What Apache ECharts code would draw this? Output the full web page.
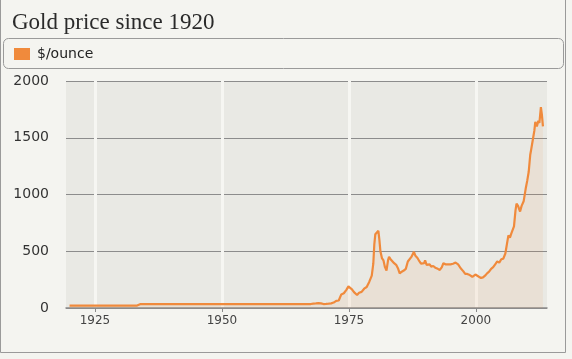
<!DOCTYPE html>
<html>
<head>
<meta charset="utf-8">
<script src="https://cdn.jsdelivr.net/npm/echarts@6/dist/echarts.min.js"></script>
<style>
html,body{margin:0;padding:0;background:#f4f4f0;}
#chart{width:572px;height:359px;}
</style>
</head>
<body>
<div id="chart"></div>
<script>
var title = 'Gold price since 1920';
var seriesName = '$/ounce';
var xTicks = [1925, 1950, 1975, 2000];
var yTicks = [0, 500, 1000, 1500, 2000];
var years = [
  1920.0, 1925.0, 1930.0, 1933.3, 1934.0, 1940.0, 1950.0, 1960.0, 1966.0, 1967.5,
  1968.0, 1968.5, 1969.0, 1969.5, 1970.0, 1970.5, 1971.0, 1971.5, 1972.0, 1972.5,
  1973.0, 1973.5, 1974.0, 1974.5, 1974.9, 1975.2, 1975.6, 1976.0, 1976.6, 1977.0,
  1977.5, 1978.0, 1978.5, 1979.0, 1979.5, 1979.8, 1980.0, 1980.2, 1980.5, 1980.8,
  1981.0, 1981.2, 1981.5, 1981.8, 1982.1, 1982.4, 1982.7, 1982.9, 1983.2, 1983.5,
  1983.9, 1984.3, 1984.7, 1985.0, 1985.4, 1985.8, 1986.2, 1986.6, 1986.9, 1987.3,
  1987.8, 1988.1, 1988.5, 1988.9, 1989.2, 1989.5, 1989.8, 1990.0, 1990.3, 1990.6,
  1990.9, 1991.2, 1991.6, 1992.0, 1992.5, 1992.9, 1993.3, 1993.6, 1994.0, 1994.5,
  1995.0, 1995.5, 1996.0, 1996.5, 1997.0, 1997.5, 1997.9, 1998.3, 1998.8, 1999.3,
  1999.6, 1999.9, 2000.2, 2000.6, 2001.0, 2001.4, 2001.8, 2002.2, 2002.6, 2003.0,
  2003.4, 2003.8, 2004.2, 2004.6, 2005.0, 2005.4, 2005.8, 2006.1, 2006.4, 2006.7,
  2007.0, 2007.5, 2007.8, 2008.0, 2008.3, 2008.7, 2009.0, 2009.4, 2009.8, 2010.1,
  2010.4, 2010.7, 2010.9, 2011.2, 2011.5, 2011.7, 2012.0, 2012.3, 2012.5, 2012.8,
  2013.0, 2013.2
];
var prices = [
  20.67, 20.67, 20.67, 21, 35, 35, 35, 35, 35, 35,
  39, 40, 43, 41, 35, 36, 38, 41, 48, 63,
  66, 120, 130, 160, 190, 178, 165, 140, 115, 135,
  142, 170, 185, 230, 285, 390, 560, 650, 665, 680,
  600, 500, 440, 420, 360, 330, 420, 450, 430, 415,
  395, 380, 345, 305, 320, 330, 345, 410, 420, 450,
  495, 460, 440, 410, 390, 375, 395, 420, 380, 365,
  385, 365, 370, 355, 345, 335, 360, 395, 385, 385,
  385, 390, 400, 385, 350, 325, 300, 300, 290, 275,
  260, 295, 285, 275, 265, 270, 285, 305, 320, 345,
  360, 385, 410, 400, 430, 435, 480, 560, 640, 620,
  660, 720, 860, 920, 900, 850, 900, 940, 1050, 1120,
  1200, 1350, 1400, 1480, 1560, 1640, 1600, 1650, 1630, 1770,
  1700, 1600
];

var data = years.map(function (y, i) { return [y, prices[i]]; });

var chart = echarts.init(document.getElementById('chart'));
chart.setOption({
  backgroundColor: '#f4f4f0',
  animation: false,
  title: {
    text: title,
    left: 12,
    top: 11,
    padding: 0,
    textStyle: { fontFamily: 'Liberation Serif', fontSize: 23, fontWeight: 'normal', color: '#2a2a2a' }
  },
  legend: {
    left: 14,
    top: 47,
    padding: 0,
    itemWidth: 16,
    itemHeight: 12,
    itemGap: 10,
    icon: 'rect',
    textStyle: { fontFamily: 'DejaVu Sans', fontSize: 14, color: '#222', padding: [0, 0, 0, 2] },
    data: [seriesName]
  },
  graphic: [
    {
      type: 'rect',
      silent: true,
      z: -1,
      shape: { x: 3.5, y: 38.5, width: 560, height: 30, r: 5 },
      style: { fill: 'none', stroke: '#9a9a9a', lineWidth: 1 }
    },
    {
      type: 'rect',
      silent: true,
      z: -1,
      shape: { x: 0.5, y: -2, width: 565, height: 354.5 },
      style: { fill: 'none', stroke: '#9a9a9a', lineWidth: 1 }
    }
  ],
  grid: {
    left: 66, right: 25, top: 81, bottom: 51,
    show: true,
    backgroundColor: '#e9e9e4',
    borderWidth: 0
  },
  xAxis: {
    type: 'value',
    min: 1919.3,
    max: 2014,
    axisLine: { show: true, onZero: false, lineStyle: { color: '#8a8a8a', width: 1.5 } },
    axisTick: { show: true, length: 4, customValues: xTicks, lineStyle: { color: '#8a8a8a' } },
    axisLabel: {
      customValues: xTicks,
      margin: 7,
      fontFamily: 'DejaVu Sans',
      fontSize: 12,
      color: '#444',
      formatter: function (v) { return String(v); }
    },
    splitLine: { show: true, lineStyle: { color: '#f6f6f2', width: 3 } }
  },
  yAxis: {
    type: 'value',
    min: 0,
    max: 2000,
    interval: 500,
    axisLine: { show: false },
    axisTick: { show: false },
    axisLabel: {
      margin: 17, fontFamily: 'DejaVu Sans', fontSize: 14, color: '#333',
      formatter: function (v) { return String(v); }
    },
    splitLine: { show: true, lineStyle: { color: '#8c8c8c', width: 1 } }
  },
  series: [{
    name: seriesName,
    type: 'line',
    data: data,
    showSymbol: false,
    symbol: 'none',
    color: '#f08a3c',
    lineStyle: { color: '#f08a3c', width: 2.2 },
    areaStyle: { color: 'rgba(240,138,60,0.12)' }
  }]
});
</script>
</body>
</html>
